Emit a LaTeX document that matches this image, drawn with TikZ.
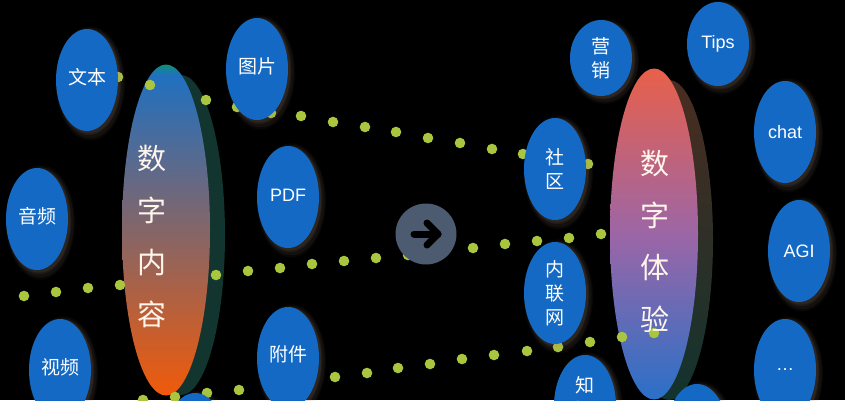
\documentclass[tikz,border=0pt]{standalone}
\usepackage{fontspec}
\setmainfont{Liberation Sans}
\newfontfamily\cjk{Noto Sans CJK SC}
\usetikzlibrary{shapes.geometric,shadows}
\definecolor{bubbleblue}{HTML}{1369C4}
\definecolor{dotgreen}{HTML}{A9C63E}
\definecolor{glow}{HTML}{A89078}
\definecolor{discgrey}{HTML}{4D5B70}
\definecolor{contentbottom}{HTML}{F05A0A}
\definecolor{contentmid}{HTML}{2070C0}
\definecolor{contenttop}{HTML}{0F9078}
\definecolor{expbottom}{HTML}{2A70C8}
\definecolor{expmid}{HTML}{9C66A6}
\definecolor{exptop}{HTML}{E8604A}
\definecolor{contentback}{HTML}{12352F}
\definecolor{expbacktop}{HTML}{4A2C20}
\definecolor{expbackbottom}{HTML}{12332E}
\pgfdeclareverticalshading{contentfill}{100bp}{color(0bp)=(contentbottom); color(25bp)=(contentbottom); color(73.4bp)=(contentmid); color(75bp)=(contenttop); color(100bp)=(contenttop)}
\pgfdeclareverticalshading{experiencefill}{100bp}{color(0bp)=(expbottom); color(25bp)=(expbottom); color(50bp)=(expmid); color(75bp)=(exptop); color(100bp)=(exptop)}
\tikzset{
  bubble/.style={ellipse,fill=bubbleblue,text=white,inner sep=0pt,minimum width=62pt,minimum height=102pt,align=center,font=\fontsize{19}{24}\selectfont\cjk,
    drop shadow={shadow xshift=3pt,shadow yshift=-3pt,fill=glow,opacity=.05,shadow scale=1.12},
    drop shadow={shadow xshift=3pt,shadow yshift=-3pt,fill=glow,opacity=.07,shadow scale=1.08},
    drop shadow={shadow xshift=2pt,shadow yshift=-2pt,fill=glow,opacity=.09,shadow scale=1.04},
    drop shadow={shadow xshift=2pt,shadow yshift=-2pt,fill=glow,opacity=.1,shadow scale=1.01}},
  latinbubble/.style={bubble,font=\fontsize{18}{24}\selectfont},
  upper/.style={text depth=#1},
  bigoval/.style={ellipse,inner sep=0pt,minimum width=88pt,minimum height=331pt},
  backoval/.style={ellipse,inner sep=0pt,minimum width=88pt,minimum height=320pt},
  bigword/.style={text=white!92!orange,align=center,font=\fontsize{29}{52}\selectfont\cjk,inner sep=0pt},
  dotmark/.style={fill=dotgreen},
  flowarrow/.style={line width=7pt,line cap=round,line join=round,black}
}
\begin{document}
\begin{tikzpicture}[x=1pt,y=-1pt]
\useasboundingbox (0,0) rectangle (845,400);
\clip (0,0) rectangle (845,400);
\fill[black] (0,0) rectangle (845,400);
\node[backoval,fill=contentback] (contentrear) at (181,235) {};
\node[backoval,top color=expbacktop,bottom color=expbackbottom] (experiencerear) at (669,240) {};
\node[bigoval,shading=contentfill] (content) at (166,230) {};
\node[bigoval,shading=experiencefill] (experience) at (654,234) {};
\foreach \x/\y in {118/77,150/85,206/100,237/107,271/113,301/116,333/122,365/127,396/132,428/138,460/143,492/149,523/154,588/164} \fill[dotmark] (\x,\y) circle (5.3pt);
\foreach \x/\y in {24/296,56/292,88/288,120/285,216/275,248/271,280/268,312/264,344/261,376/258,408/255,473/248,505/244,537/241,569/238,601/234} \fill[dotmark] (\x,\y) circle (5.3pt);
\foreach \x/\y in {143/400,175/397,207/393,239/390,335/377,367/373,398/368,430/364,462/359,494/355,527/351,558/347,590/342,622/337,654/333} \fill[dotmark] (\x,\y) circle (5.3pt);
\node[bigword] (contentword) at (152,236) {数\\字\\内\\容};
\node[bigword] (experienceword) at (655,241) {数\\字\\体\\验};
\node[bubble,upper=8pt] (wordnode) at (87,80) {文本};
\node[bubble,upper=7pt] (imagenode) at (257,69) {图片};
\node[latinbubble,upper=4pt] (pdfnode) at (288,197) {PDF};
\node[bubble,upper=8pt] (audionode) at (37,219) {音频};
\node[bubble,upper=7pt] (videonode) at (60,370) {视频};
\node[bubble,upper=8pt] (attachnode) at (288,358) {附件};
\node[bubble] (lownode) at (195,444) {};
\node[bubble,minimum height=76pt] (marketnode) at (601,58) {营\\销};
\node[latinbubble,minimum height=84pt] (tipsnode) at (718,44) {Tips};
\node[latinbubble] (chatnode) at (785,132) {chat};
\node[bubble] (communitynode) at (555,169) {社\\区};
\node[bubble] (intranetnode) at (555,293) {内\\联\\网};
\node[latinbubble] (aginode) at (799,251) {AGI};
\node[latinbubble] (morenode) at (785,370) {…};
\node[bubble,upper=20pt] (knownode) at (585,406) {知\\识};
\node[bubble] (lastnode) at (697,435) {};
\node[circle,fill=discgrey,inner sep=0pt,minimum size=61pt] (go) at (426,234) {};
\draw[flowarrow] ([xshift=-12pt]go.center) -- ([xshift=12pt]go.center);
\draw[flowarrow] ([xshift=1pt,yshift=11pt]go.center) -- ([xshift=12pt]go.center) -- ([xshift=1pt,yshift=-11pt]go.center);
\end{tikzpicture}
\end{document}
